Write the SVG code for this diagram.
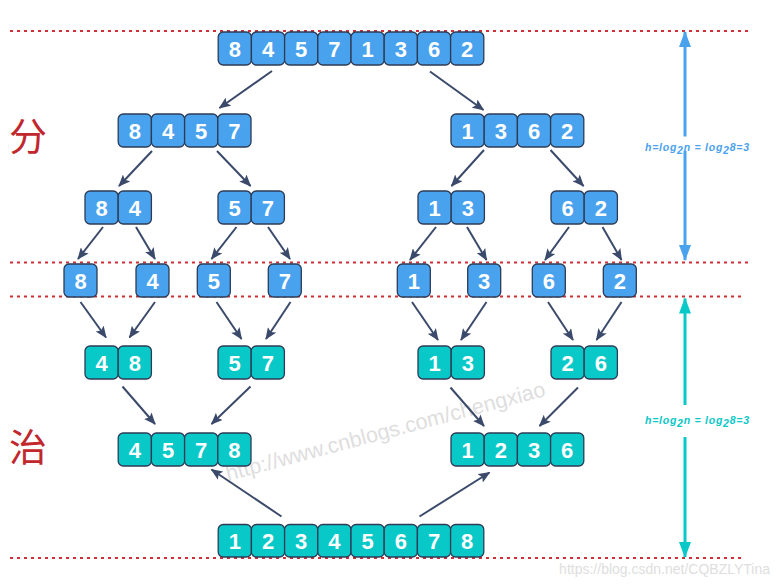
<svg xmlns="http://www.w3.org/2000/svg" width="780" height="587" viewBox="0 0 780 587">
<style>
.b rect{fill:#49a2ee;stroke:#2d3b55;stroke-width:1.3}
.t rect{fill:#08c8c8;stroke:#2d3b55;stroke-width:1.3}
.n text{font-family:"Liberation Sans",Arial,sans-serif;font-weight:bold;font-size:22px;fill:#fff;text-anchor:middle}
.dash{stroke:#cf2f36;stroke-width:2;stroke-dasharray:3 4;fill:none}
.c line{stroke:#3b4a6b;stroke-width:2}
.han{font-family:"Noto Sans CJK SC","Noto Serif CJK SC",serif;font-size:38px;fill:#c1272d}
.hl{font-family:"Liberation Sans",Arial,sans-serif;font-weight:bold;font-style:italic;font-size:10.5px}
.wm{font-family:"Liberation Sans",Arial,sans-serif;fill:#dedede}
</style>
<defs>
<marker id="ah" viewBox="0 0 12 10" refX="11" refY="5" markerWidth="12" markerHeight="10" markerUnits="userSpaceOnUse" orient="auto">
<path d="M0,0 L12,5 L0,10 L2.5,5 z" fill="#3b4a6b"/>
</marker>
<marker id="th" viewBox="0 0 16 12" refX="15" refY="6" markerWidth="16" markerHeight="12" markerUnits="userSpaceOnUse" orient="auto">
<path d="M0,0 L16,6 L0,12 z" fill="#08c8c8"/>
</marker>
<marker id="bh2" viewBox="0 0 16 12" refX="15" refY="6" markerWidth="16" markerHeight="12" markerUnits="userSpaceOnUse" orient="auto">
<path d="M0,0 L16,6 L0,12 z" fill="#49a2ee"/>
</marker>
</defs>
<rect width="780" height="587" fill="#fff"/>

<g id="guides">
<line class="dash" x1="10" y1="31" x2="750" y2="31"/>
<line class="dash" x1="10" y1="262.5" x2="750" y2="262.5"/>
<line class="dash" x1="10" y1="296.5" x2="742" y2="296.5"/>
<line class="dash" x1="10" y1="558" x2="742" y2="558"/>
</g>

<text id="fen" class="han" x="9" y="150">分</text>
<text id="zhi" class="han" x="9" y="461">治</text>

<g id="wm1" class="wm"><text x="228" y="481" font-size="21.5" transform="rotate(-15 228 481)">http://www.cnblogs.com/chengxiao</text></g>

<g id="connectors" class="c">
<line x1="272" y1="71" x2="219.5" y2="108" marker-end="url(#ah)"/>
<line x1="430" y1="71.5" x2="483.5" y2="110" marker-end="url(#ah)"/>
<line x1="152" y1="151" x2="119" y2="186" marker-end="url(#ah)"/>
<line x1="217" y1="151" x2="250.5" y2="186" marker-end="url(#ah)"/>
<line x1="484" y1="150" x2="451.5" y2="186" marker-end="url(#ah)"/>
<line x1="550.5" y1="150" x2="583.5" y2="186" marker-end="url(#ah)"/>
<line x1="103" y1="227" x2="78" y2="259" marker-end="url(#ah)"/>
<line x1="136" y1="227" x2="155" y2="259" marker-end="url(#ah)"/>
<line x1="236.5" y1="227" x2="211.5" y2="259" marker-end="url(#ah)"/>
<line x1="268" y1="227" x2="290" y2="259" marker-end="url(#ah)"/>
<line x1="436" y1="227" x2="410" y2="260" marker-end="url(#ah)"/>
<line x1="467" y1="227" x2="486.5" y2="260" marker-end="url(#ah)"/>
<line x1="569" y1="227" x2="545" y2="260" marker-end="url(#ah)"/>
<line x1="602.5" y1="227" x2="621.5" y2="260" marker-end="url(#ah)"/>
<line x1="80.5" y1="302" x2="106" y2="337.5" marker-end="url(#ah)"/>
<line x1="155" y1="302" x2="129.5" y2="337.5" marker-end="url(#ah)"/>
<line x1="216.5" y1="302" x2="241.5" y2="339" marker-end="url(#ah)"/>
<line x1="290.5" y1="302" x2="266" y2="339" marker-end="url(#ah)"/>
<line x1="412" y1="302" x2="438" y2="340" marker-end="url(#ah)"/>
<line x1="486.5" y1="302" x2="461" y2="340" marker-end="url(#ah)"/>
<line x1="548" y1="302" x2="573" y2="340" marker-end="url(#ah)"/>
<line x1="621.5" y1="302" x2="596.5" y2="340" marker-end="url(#ah)"/>
<line x1="122.5" y1="386.5" x2="155" y2="424" marker-end="url(#ah)"/>
<line x1="250.5" y1="386.5" x2="211.5" y2="424" marker-end="url(#ah)"/>
<line x1="450.5" y1="387.5" x2="484" y2="426" marker-end="url(#ah)"/>
<line x1="578" y1="387.5" x2="539.5" y2="426" marker-end="url(#ah)"/>
<line x1="281.5" y1="516.5" x2="211.5" y2="469.5" marker-end="url(#ah)"/>
<line x1="419.5" y1="516.5" x2="489.5" y2="472.5" marker-end="url(#ah)"/>
</g>

<g id="height-divide">
<line x1="685" y1="136.5" x2="685" y2="32" stroke="#49a2ee" stroke-width="3" marker-end="url(#bh2)"/>
<line x1="685" y1="151" x2="685" y2="260" stroke="#49a2ee" stroke-width="3" marker-end="url(#bh2)"/>
<text class="hl" x="645" y="150.5" fill="#49a2ee" textLength="104">h=log<tspan dy="3">2</tspan><tspan dy="-3">n = log</tspan><tspan dy="3">2</tspan><tspan dy="-3">8=3</tspan></text>
</g>
<g id="height-conquer">
<line x1="685" y1="405" x2="685" y2="298.5" stroke="#08c8c8" stroke-width="3" marker-end="url(#th)"/>
<line x1="685" y1="437" x2="685" y2="557" stroke="#08c8c8" stroke-width="3" marker-end="url(#th)"/>
<text class="hl" x="645" y="423.5" fill="#08c8c8" textLength="104">h=log<tspan dy="3">2</tspan><tspan dy="-3">n = log</tspan><tspan dy="3">2</tspan><tspan dy="-3">8=3</tspan></text>
</g>

<!-- level 1 -->
<g id="n-84571362" class="n b">
<rect x="218.2" y="32" width="33.2" height="33" rx="5"/><text x="234.8" y="56.5">8</text>
<rect x="251.4" y="32" width="33.2" height="33" rx="5"/><text x="268" y="56.5">4</text>
<rect x="284.6" y="32" width="33.2" height="33" rx="5"/><text x="301.2" y="56.5">5</text>
<rect x="317.8" y="32" width="33.2" height="33" rx="5"/><text x="334.4" y="56.5">7</text>
<rect x="351" y="32" width="33.2" height="33" rx="5"/><text x="367.6" y="56.5">1</text>
<rect x="384.2" y="32" width="33.2" height="33" rx="5"/><text x="400.8" y="56.5">3</text>
<rect x="417.4" y="32" width="33.2" height="33" rx="5"/><text x="434" y="56.5">6</text>
<rect x="450.6" y="32" width="33.2" height="33" rx="5"/><text x="467.2" y="56.5">2</text>
</g>
<!-- level 2 -->
<g id="n-8457" class="n b">
<rect x="118.2" y="114" width="33.2" height="33" rx="5"/><text x="134.8" y="138.5">8</text>
<rect x="151.4" y="114" width="33.2" height="33" rx="5"/><text x="168" y="138.5">4</text>
<rect x="184.6" y="114" width="33.2" height="33" rx="5"/><text x="201.2" y="138.5">5</text>
<rect x="217.8" y="114" width="33.2" height="33" rx="5"/><text x="234.4" y="138.5">7</text>
</g>
<g id="n-1362" class="n b">
<rect x="451" y="114" width="33.2" height="33" rx="5"/><text x="467.6" y="138.5">1</text>
<rect x="484.2" y="114" width="33.2" height="33" rx="5"/><text x="500.8" y="138.5">3</text>
<rect x="517.4" y="114" width="33.2" height="33" rx="5"/><text x="534" y="138.5">6</text>
<rect x="550.6" y="114" width="33.2" height="33" rx="5"/><text x="567.2" y="138.5">2</text>
</g>
<!-- level 3 -->
<g id="n-84" class="n b">
<rect x="85" y="191" width="33.2" height="33" rx="5"/><text x="101.6" y="215.5">8</text>
<rect x="118.2" y="191" width="33.2" height="33" rx="5"/><text x="134.8" y="215.5">4</text>
</g>
<g id="n-57a" class="n b">
<rect x="218" y="191" width="33.2" height="33" rx="5"/><text x="234.6" y="215.5">5</text>
<rect x="251.2" y="191" width="33.2" height="33" rx="5"/><text x="267.8" y="215.5">7</text>
</g>
<g id="n-13a" class="n b">
<rect x="418" y="191" width="33.2" height="33" rx="5"/><text x="434.6" y="215.5">1</text>
<rect x="451.2" y="191" width="33.2" height="33" rx="5"/><text x="467.8" y="215.5">3</text>
</g>
<g id="n-62" class="n b">
<rect x="551" y="191" width="33.2" height="33" rx="5"/><text x="567.6" y="215.5">6</text>
<rect x="584.2" y="191" width="33.2" height="33" rx="5"/><text x="600.8" y="215.5">2</text>
</g>
<!-- level 4 -->
<g id="n-8" class="n b"><rect x="64" y="264" width="33" height="33" rx="5"/><text x="80.5" y="288.5">8</text></g>
<g id="n-4" class="n b"><rect x="136" y="264" width="33" height="33" rx="5"/><text x="152.5" y="288.5">4</text></g>
<g id="n-5" class="n b"><rect x="197.3" y="264" width="33" height="33" rx="5"/><text x="213.8" y="288.5">5</text></g>
<g id="n-7" class="n b"><rect x="268.3" y="264" width="33" height="33" rx="5"/><text x="284.8" y="288.5">7</text></g>
<g id="n-1" class="n b"><rect x="397.3" y="264" width="33" height="33" rx="5"/><text x="413.8" y="288.5">1</text></g>
<g id="n-3" class="n b"><rect x="467.7" y="264" width="33" height="33" rx="5"/><text x="484.2" y="288.5">3</text></g>
<g id="n-6" class="n b"><rect x="532.3" y="264" width="33" height="33" rx="5"/><text x="548.8" y="288.5">6</text></g>
<g id="n-2" class="n b"><rect x="603.3" y="264" width="33" height="33" rx="5"/><text x="619.8" y="288.5">2</text></g>
<!-- level 5 -->
<g id="n-48" class="n t">
<rect x="85" y="346" width="33.2" height="33" rx="5"/><text x="101.6" y="370.5">4</text>
<rect x="118.2" y="346" width="33.2" height="33" rx="5"/><text x="134.8" y="370.5">8</text>
</g>
<g id="n-57b" class="n t">
<rect x="218" y="346" width="33.2" height="33" rx="5"/><text x="234.6" y="370.5">5</text>
<rect x="251.2" y="346" width="33.2" height="33" rx="5"/><text x="267.8" y="370.5">7</text>
</g>
<g id="n-13b" class="n t">
<rect x="418" y="346" width="33.2" height="33" rx="5"/><text x="434.6" y="370.5">1</text>
<rect x="451.2" y="346" width="33.2" height="33" rx="5"/><text x="467.8" y="370.5">3</text>
</g>
<g id="n-26" class="n t">
<rect x="551" y="346" width="33.2" height="33" rx="5"/><text x="567.6" y="370.5">2</text>
<rect x="584.2" y="346" width="33.2" height="33" rx="5"/><text x="600.8" y="370.5">6</text>
</g>
<!-- level 6 -->
<g id="n-4578" class="n t">
<rect x="118.2" y="433" width="33.2" height="33" rx="5"/><text x="134.8" y="457.5">4</text>
<rect x="151.4" y="433" width="33.2" height="33" rx="5"/><text x="168" y="457.5">5</text>
<rect x="184.6" y="433" width="33.2" height="33" rx="5"/><text x="201.2" y="457.5">7</text>
<rect x="217.8" y="433" width="33.2" height="33" rx="5"/><text x="234.4" y="457.5">8</text>
</g>
<g id="n-1236" class="n t">
<rect x="451" y="433" width="33.2" height="33" rx="5"/><text x="467.6" y="457.5">1</text>
<rect x="484.2" y="433" width="33.2" height="33" rx="5"/><text x="500.8" y="457.5">2</text>
<rect x="517.4" y="433" width="33.2" height="33" rx="5"/><text x="534" y="457.5">3</text>
<rect x="550.6" y="433" width="33.2" height="33" rx="5"/><text x="567.2" y="457.5">6</text>
</g>
<!-- level 7 -->
<g id="n-12345678" class="n t">
<rect x="218.2" y="524.5" width="33.2" height="32.5" rx="5"/><text x="234.8" y="548.8">1</text>
<rect x="251.4" y="524.5" width="33.2" height="32.5" rx="5"/><text x="268" y="548.8">2</text>
<rect x="284.6" y="524.5" width="33.2" height="32.5" rx="5"/><text x="301.2" y="548.8">3</text>
<rect x="317.8" y="524.5" width="33.2" height="32.5" rx="5"/><text x="334.4" y="548.8">4</text>
<rect x="351" y="524.5" width="33.2" height="32.5" rx="5"/><text x="367.6" y="548.8">5</text>
<rect x="384.2" y="524.5" width="33.2" height="32.5" rx="5"/><text x="400.8" y="548.8">6</text>
<rect x="417.4" y="524.5" width="33.2" height="32.5" rx="5"/><text x="434" y="548.8">7</text>
<rect x="450.6" y="524.5" width="33.2" height="32.5" rx="5"/><text x="467.2" y="548.8">8</text>
</g>

<g id="wm2" class="wm"><text x="770" y="574" font-size="14" text-anchor="end">https://blog.csdn.net/CQBZLYTina</text></g>
</svg>
